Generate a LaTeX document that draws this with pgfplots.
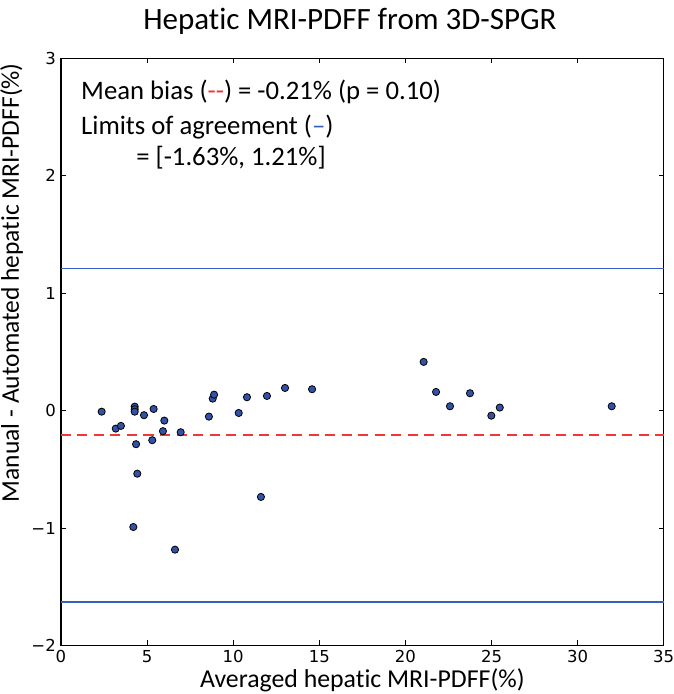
\documentclass[border=0pt]{standalone}
\usepackage{fontspec}
\setmainfont{Carlito}[Ligatures={TeX,NoCommon}]
\newfontfamily\tickfont{DejaVu Sans}
\usepackage{pgfplots}
\pgfplotsset{compat=1.18}
\definecolor{markblue}{RGB}{50,82,168}
\definecolor{lineblue}{RGB}{55,95,195}
\definecolor{biasred}{RGB}{240,55,55}
\begin{document}
\begin{tikzpicture}
\path[use as bounding box] (-61bp,-48.5bp) rectangle (613bp,645.5bp);
\begin{axis}[
  at={(0,0)}, anchor=south west,
  scale only axis,
  width=602.7bp, height=587.2bp,
  xmin=0, xmax=35, ymin=-2, ymax=3,
  xtick={0,5,...,35},
  ytick={-2,-1,0,1,2,3},
  yticklabels={−2,−1,0,1,2,3},
  tick align=inside,
  major tick length=5bp,
  tick style={black, line width=0.6bp},
  axis line style={black, line width=1.1bp},
  xticklabel style={font=\fontsize{16.5bp}{18bp}\tickfont, anchor=north, inner sep=0pt, yshift=-5bp},
  yticklabel style={font=\fontsize{16.5bp}{18bp}\tickfont, anchor=east, inner sep=0pt, xshift=-5bp},
  /pgf/number format/assume math mode=true,
  clip=false,
]
\addplot[draw=lineblue, line width=1.2bp] coordinates {(0,1.21) (35,1.21)};
\addplot[draw=lineblue, line width=1.2bp] coordinates {(0,-1.63) (35,-1.63)};
\addplot[color=biasred, line width=1.6bp, dash pattern=on 10bp off 6.5bp] coordinates {(0,-0.21) (35,-0.21)};
\addplot[only marks, mark=*, mark size=3.6bp,
  mark options={fill=markblue, draw=black, line width=0.8bp}] coordinates {
(2.36,-0.009) (3.18,-0.153) (3.48,-0.130) (4.28,0.034) (4.28,0.012) (4.28,-0.009)
(4.82,-0.039) (5.38,0.014) (6.00,-0.085) (5.92,-0.175) (6.95,-0.184) (4.36,-0.286)
(5.30,-0.252) (4.43,-0.537) (4.20,-0.991) (6.62,-1.184) (8.59,-0.051) (8.81,0.102)
(8.89,0.136) (10.32,-0.020) (10.80,0.114) (11.96,0.125) (13.01,0.193) (14.58,0.182)
(11.61,-0.735) (21.06,0.415) (21.78,0.159) (22.59,0.037) (23.75,0.148) (24.99,-0.043)
(25.48,0.026) (31.98,0.037)
};
\node[anchor=base west, inner sep=0pt, font=\fontsize{26.7bp}{32bp}\selectfont] at (axis cs:1.16,2.652)
  {Mean bias (\textcolor{biasred}{-{}-}) = -0.21\% (p = 0.10)};
\node[anchor=base west, inner sep=0pt, font=\fontsize{26.7bp}{32bp}\selectfont] at (axis cs:1.16,2.348)
  {Limits of agreement (\textcolor{lineblue}{–})};
\node[anchor=base west, inner sep=0pt, font=\fontsize{26.7bp}{32bp}\selectfont] at (axis cs:4.36,2.084)
  {= [-1.63\%, 1.21\%]};
\node[anchor=base, inner sep=0pt, font=\fontsize{31bp}{36bp}\selectfont] at (axis description cs:0.4795,1.0482)
  {Hepatic MRI-PDFF from 3D-SPGR};
\node[anchor=base, inner sep=0pt, font=\fontsize{25.8bp}{31bp}\selectfont] at (axis description cs:0.5,-0.0715)
  {Averaged hepatic MRI-PDFF(\%)};
\node[anchor=base, rotate=90, inner sep=0pt, font=\fontsize{25.5bp}{30bp}\selectfont] at (axis description cs:-0.0697,0.618)
  {Manual - Automated hepatic MRI-PDFF(\%)};
\end{axis}
\end{tikzpicture}
\end{document}
